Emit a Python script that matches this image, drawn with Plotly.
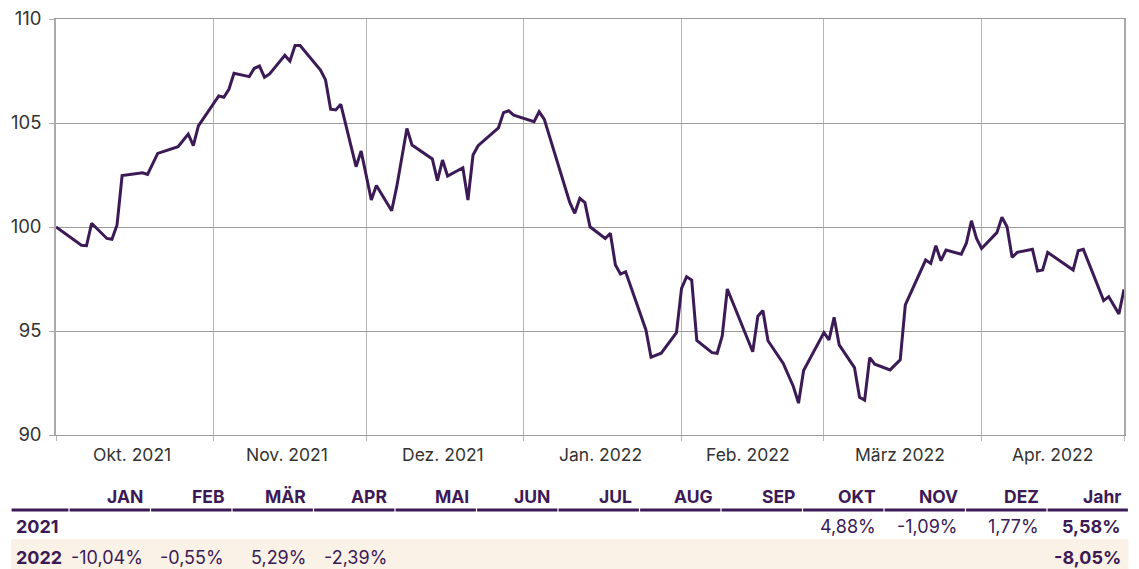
import plotly.graph_objects as go

# ---------------- data ----------------
dates = [
    "2021-10-01", "2021-10-06", "2021-10-07", "2021-10-08", "2021-10-11", "2021-10-12", "2021-10-13",
    "2021-10-14", "2021-10-18", "2021-10-19", "2021-10-21", "2021-10-25", "2021-10-27", "2021-10-28",
    "2021-10-29", "2021-11-02", "2021-11-03", "2021-11-04", "2021-11-05", "2021-11-08", "2021-11-09",
    "2021-11-10", "2021-11-11", "2021-11-12", "2021-11-15", "2021-11-16", "2021-11-17", "2021-11-18",
    "2021-11-22", "2021-11-23", "2021-11-24", "2021-11-25", "2021-11-26", "2021-11-29", "2021-11-30",
    "2021-12-02", "2021-12-03", "2021-12-06", "2021-12-07", "2021-12-09", "2021-12-10", "2021-12-14",
    "2021-12-15", "2021-12-16", "2021-12-17", "2021-12-20", "2021-12-21", "2021-12-22", "2021-12-23",
    "2021-12-27", "2021-12-28", "2021-12-29", "2021-12-30", "2022-01-03", "2022-01-04", "2022-01-05",
    "2022-01-10", "2022-01-11", "2022-01-12", "2022-01-13", "2022-01-14", "2022-01-17", "2022-01-18",
    "2022-01-19", "2022-01-20", "2022-01-21", "2022-01-25", "2022-01-26", "2022-01-28", "2022-01-31",
    "2022-02-01", "2022-02-02", "2022-02-03", "2022-02-04", "2022-02-07", "2022-02-08", "2022-02-09",
    "2022-02-10", "2022-02-15", "2022-02-16", "2022-02-17", "2022-02-18", "2022-02-21", "2022-02-23",
    "2022-02-24", "2022-02-25", "2022-03-01", "2022-03-02", "2022-03-03", "2022-03-04", "2022-03-07",
    "2022-03-08", "2022-03-09", "2022-03-10", "2022-03-11", "2022-03-14", "2022-03-16", "2022-03-17",
    "2022-03-21", "2022-03-22", "2022-03-23", "2022-03-24", "2022-03-25", "2022-03-28", "2022-03-29",
    "2022-03-30", "2022-03-31", "2022-04-01", "2022-04-04", "2022-04-05", "2022-04-06", "2022-04-07",
    "2022-04-08", "2022-04-11", "2022-04-12", "2022-04-13", "2022-04-14", "2022-04-19", "2022-04-20",
    "2022-04-21", "2022-04-25", "2022-04-26", "2022-04-28", "2022-04-29",
]
values = [
    100.00, 99.12, 99.10, 100.18, 99.45, 99.41, 100.10,
    102.47, 102.61, 102.53, 103.54, 103.86, 104.47, 103.91,
    104.86, 106.30, 106.24, 106.62, 107.39, 107.23, 107.63,
    107.74, 107.20, 107.36, 108.25, 107.98, 108.72, 108.72,
    107.55, 107.07, 105.66, 105.63, 105.90, 102.90, 103.65,
    101.30, 102.00, 100.78, 101.94, 104.74, 103.94, 103.27,
    102.23, 103.22, 102.45, 102.85, 101.30, 103.46, 103.91,
    104.77, 105.50, 105.59, 105.38, 105.06, 105.54, 105.19,
    101.19, 100.66, 101.38, 101.17, 100.01, 99.45, 99.70,
    98.17, 97.74, 97.85, 95.05, 93.74, 93.93, 94.92,
    97.05, 97.61, 97.45, 94.55, 93.96, 93.93, 94.76,
    97.02, 94.00, 95.71, 95.98, 94.53, 93.44, 92.32,
    91.53, 93.10, 94.92, 94.57, 95.66, 94.33, 93.24,
    91.81, 91.68, 93.72, 93.40, 93.13, 93.61, 96.25,
    98.41, 98.25, 99.10, 98.38, 98.89, 98.69, 99.22,
    100.30, 99.45, 98.97, 99.73, 100.47, 100.01, 98.54,
    98.78, 98.93, 97.88, 97.93, 98.78, 97.93, 98.86,
    98.93, 96.46, 96.65, 95.82, 97.00,
]

month_starts = ["2021-10-01", "2021-11-01", "2021-12-01", "2022-01-01",
                "2022-02-01", "2022-03-01", "2022-04-01", "2022-04-29"]
month_mids = ["2021-10-16", "2021-11-15 12:00", "2021-12-16", "2022-01-16",
              "2022-02-14", "2022-03-16", "2022-04-15"]
month_labels = ["Okt. 2021", "Nov. 2021", "Dez. 2021", "Jan. 2022",
                "Feb. 2022", "März 2022", "Apr. 2022"]

table_headers = ["JAN", "FEB", "MÄR", "APR", "MAI", "JUN", "JUL", "AUG",
                 "SEP", "OKT", "NOV", "DEZ", "Jahr"]
row_years = ["2021", "2022"]
perf_2021 = ["", "", "", "", "", "", "", "", "", "4,88%", "-1,09%", "1,77%"]
perf_2022 = ["-10,04%", "-0,55%", "5,29%", "-2,39%", "", "", "", "", "", "", "", ""]
year_perf = ["5,58%", "-8,05%"]

# ---------------- style ----------------
OFF = 8                      # page body margin of the browser
W, H = 1139 - OFF, 569 - OFF
PL, PR, PT, PB = 56 - OFF, 1124 - OFF, 19 - OFF, 435 - OFF  # plot area in figure px
PURPLE = "#3B1A55"
FONT = "Inter, Roboto, Arial, sans-serif"


def px_x(px):
    """page px -> paper x"""
    return (px - OFF - PL) / (PR - PL)


def px_y(py):
    """page px -> paper y"""
    return (PB - (py - OFF)) / (PB - PT)


fig = go.Figure()
fig.add_trace(go.Scatter(
    x=dates, y=values, mode="lines",
    line=dict(color=PURPLE, width=3),
    hoverinfo="skip", showlegend=False,
))

fig.update_layout(
    width=W, height=H,
    margin=dict(l=PL, r=W - PR, t=PT, b=H - PB, autoexpand=False),
    paper_bgcolor="white", plot_bgcolor="white",
    font=dict(family=FONT, color="#333333", size=16),
    showlegend=False,
)
fig.update_xaxes(
    type="date", range=["2021-10-01", "2022-04-29"],
    tickmode="array", tickvals=month_starts, showticklabels=False,
    showgrid=True, gridcolor="#b5b5b5", gridwidth=1,
    showline=True, linecolor="#9a9a9a", linewidth=1, mirror=True,
    ticks="outside", ticklen=5, tickcolor="#b5b5b5", zeroline=False,
)
fig.update_yaxes(
    range=[90, 110], tickmode="array", tickvals=[90, 95, 100, 105, 110],
    ticktext=["90", "95", "100", "105", "110"],
    showgrid=True, gridcolor="#9a9a9a", gridwidth=1,
    showline=True, linecolor="#aaaaaa", linewidth=1.5, mirror=True,
    ticks="outside", ticklen=5, tickcolor="#aaaaaa", ticklabelstandoff=4,
    ticklabeloverflow="allow",
    tickfont=dict(size=18.5, color="#333333"), zeroline=False,
)

annotations = []
# month labels centred in each month
for d, lab in zip(month_mids, month_labels):
    annotations.append(dict(
        x=d, xref="x", y=px_y(454), yref="paper", text=lab, showarrow=False,
        xanchor="center", yanchor="middle", font=dict(size=17.5, color="#333333"),
    ))

# ---------------- performance table ----------------
TL = 11           # table left (page px)
C0 = 69           # right edge of first column
CW = 81.5         # column width
Y_HEAD, Y_LINE, Y_R1, Y_R2 = 497, 510, 526, 557
BAND_TOP, BAND_BOT = 539, 569

shapes = []
shapes.append(dict(
    type="rect", xref="paper", yref="paper",
    x0=px_x(TL), x1=px_x(C0 + CW * 13), y0=px_y(BAND_BOT + 2), y1=px_y(BAND_TOP),
    fillcolor="#FAF1E7", line=dict(width=0), layer="below",
))
bounds = [TL, C0] + [C0 + CW * (i + 1) for i in range(13)]
for a, b in zip(bounds[:-1], bounds[1:]):
    shapes.append(dict(
        type="line", xref="paper", yref="paper",
        x0=px_x(a + 0.6), x1=px_x(b - 0.6), y0=px_y(Y_LINE), y1=px_y(Y_LINE),
        line=dict(color=PURPLE, width=2.8),
    ))

for i, h in enumerate(table_headers):
    right = C0 + CW * (i + 1) - 6
    annotations.append(dict(
        x=px_x(right), xref="paper", y=px_y(Y_HEAD), yref="paper",
        text=f"<b>{h}</b>", showarrow=False, xanchor="right", yanchor="middle",
        font=dict(size=17.5, color=PURPLE),
    ))

for yr, row, yp, ypx in zip(row_years, [perf_2021, perf_2022], year_perf, [Y_R1, Y_R2]):
    annotations.append(dict(
        x=px_x(14), xref="paper", y=px_y(ypx), yref="paper",
        text=f"<b>{yr}</b>", showarrow=False, xanchor="left", yanchor="middle",
        font=dict(size=18, color=PURPLE),
    ))
    for i, v in enumerate(row):
        if not v:
            continue
        right = C0 + CW * (i + 1) - 6
        annotations.append(dict(
            x=px_x(right), xref="paper", y=px_y(ypx), yref="paper",
            text=v, showarrow=False, xanchor="right", yanchor="middle",
            font=dict(size=18, color=PURPLE),
        ))
    right = C0 + CW * 13 - 6
    annotations.append(dict(
        x=px_x(right), xref="paper", y=px_y(ypx), yref="paper",
        text=f"<b>{yp}</b>", showarrow=False, xanchor="right", yanchor="middle",
        font=dict(size=18, color=PURPLE),
    ))

fig.update_layout(annotations=annotations, shapes=shapes)
fig.write_html("out.html")
